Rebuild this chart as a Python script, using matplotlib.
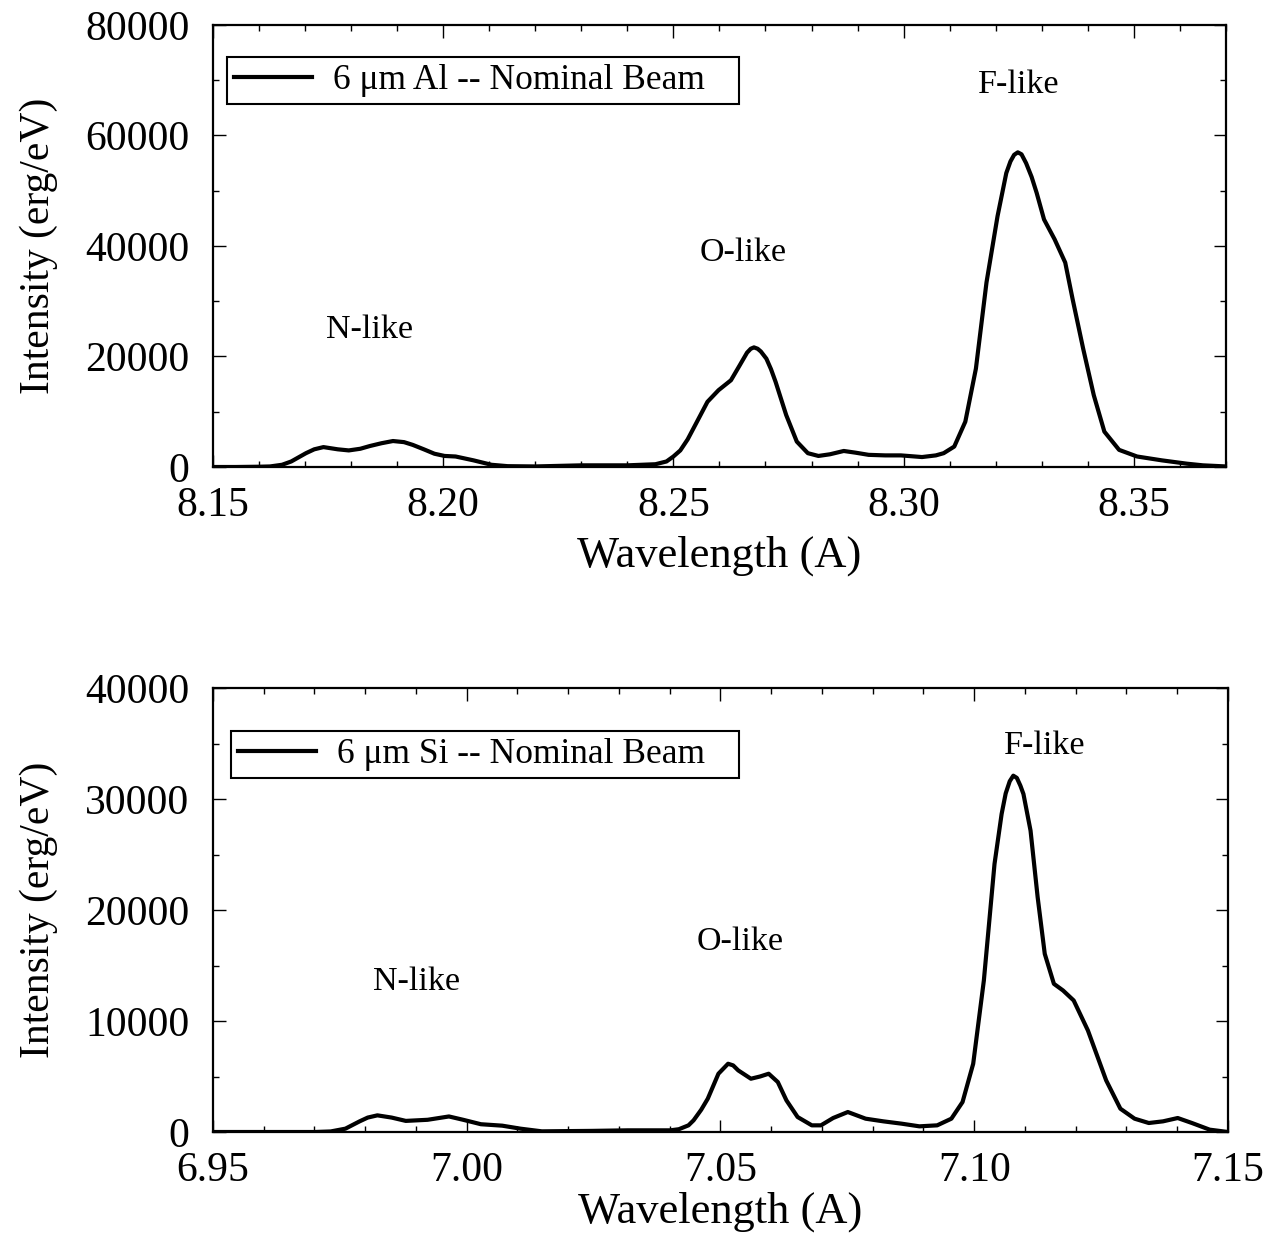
import matplotlib
matplotlib.use("Agg")
import matplotlib.pyplot as plt
from matplotlib.ticker import MultipleLocator

# Fonts
plt.rcParams['font.family'] = ['Liberation Serif', 'DejaVu Serif']

# Al spectrum (top panel)
wl_al = [8.150, 8.155, 8.160, 8.1624, 8.165, 8.167, 8.1702, 8.172, 8.174, 8.1771,
         8.1795, 8.182, 8.1841, 8.1866, 8.1891, 8.1915, 8.1934, 8.1958, 8.1981, 8.2003,
         8.2027, 8.2066, 8.2105, 8.2140, 8.2200, 8.2300, 8.2400, 8.2461, 8.2485, 8.2500,
         8.2515, 8.2531, 8.2550, 8.2574, 8.2598, 8.2625, 8.2644, 8.2660, 8.2668, 8.2675,
         8.2683, 8.2690, 8.2702, 8.2712, 8.2722, 8.2745, 8.2768, 8.2792, 8.2815, 8.2840,
         8.2870, 8.2895, 8.2924, 8.2960, 8.2994, 8.3040, 8.3070, 8.3087, 8.3110, 8.3134,
         8.3157, 8.3180, 8.3204, 8.3223, 8.3232, 8.3240, 8.3248, 8.3256, 8.3266, 8.3278,
         8.3289, 8.3305, 8.3328, 8.3351, 8.3367, 8.3390, 8.3413, 8.3436, 8.3468, 8.3507,
         8.3561, 8.3615, 8.3650, 8.3700]
int_al = [0, 0, 50, 100, 400, 1000, 2500, 3200, 3600, 3200,
          3000, 3300, 3800, 4300, 4700, 4500, 4000, 3200, 2400, 2000,
          1900, 1200, 400, 150, 100, 300, 300, 500, 1000, 1900,
          3000, 5000, 8000, 11800, 13900, 15700, 18400, 20700, 21400, 21650,
          21400, 20900, 19600, 17700, 15400, 9400, 4600, 2500, 2000, 2300,
          2900, 2600, 2200, 2100, 2100, 1800, 2100, 2500, 3700, 8200,
          17800, 33400, 45400, 53200, 55300, 56500, 56950, 56600, 55000, 52500,
          49600, 44800, 41200, 37000, 30400, 21400, 13000, 6400, 3100, 1900,
          1200, 600, 300, 100]

# Si spectrum (bottom panel)
wl_si = [6.950, 6.960, 6.970, 6.9732, 6.9761, 6.9789, 6.9805, 6.9824, 6.9852, 6.9880,
         6.9923, 6.9965, 6.9993, 7.0028, 7.0070, 7.0106, 7.0148, 7.0246, 7.0317, 7.0401,
         7.0418, 7.0437, 7.0447, 7.0462, 7.0475, 7.0496, 7.0515, 7.0525, 7.0535, 7.0560,
         7.0578, 7.0595, 7.0613, 7.0630, 7.0652, 7.0680, 7.0698, 7.0722, 7.0751, 7.0786,
         7.0821, 7.0857, 7.0892, 7.0927, 7.0955, 7.0977, 7.0998, 7.1019, 7.1040, 7.1054,
         7.1062, 7.1070, 7.1077, 7.1084, 7.1091, 7.1097, 7.1111, 7.1125, 7.1139, 7.1157,
         7.1175, 7.1196, 7.1224, 7.1260, 7.1288, 7.1316, 7.1344, 7.1372, 7.1401, 7.1429,
         7.1464, 7.1500]
int_si = [0, 0, 0, 50, 300, 960, 1300, 1500, 1300, 1000,
          1100, 1400, 1100, 700, 570, 300, 60, 100, 150, 150,
          250, 600, 1050, 2000, 3000, 5250, 6150, 6000, 5550, 4800,
          5000, 5250, 4500, 2850, 1350, 600, 600, 1260, 1800, 1200,
          960, 750, 510, 600, 1200, 2700, 6150, 13650, 24150, 28650,
          30500, 31600, 32100, 31900, 31200, 30450, 27150, 21150, 16050, 13350,
          12750, 11850, 9150, 4650, 2100, 1200, 810, 960, 1260, 810,
          210, 0]

# Peak labels
labels = ["N-like", "O-like", "F-like"]
al_label_x = [8.1841, 8.2652, 8.3250]
al_label_y = [24800, 38700, 69100]
si_label_x = [6.9902, 7.0538, 7.1139]
si_label_y = [13500, 17100, 34800]

fig = plt.figure(figsize=(12.79, 12.43), dpi=100)
ax1 = fig.add_axes([0.1665, 0.6243, 0.792, 0.3556])
ax2 = fig.add_axes([0.1665, 0.0893, 0.7936, 0.3572])


def style_axes(ax, xmin, xmax, ymax, ymajor, yminor):
    ax.set_xlim(xmin, xmax)
    ax.set_ylim(0, ymax)
    ax.xaxis.set_major_locator(MultipleLocator(0.05))
    ax.xaxis.set_minor_locator(MultipleLocator(0.01))
    ax.yaxis.set_major_locator(MultipleLocator(ymajor))
    ax.yaxis.set_minor_locator(MultipleLocator(yminor))
    ax.xaxis.set_major_formatter(plt.FormatStrFormatter('%.2f'))
    ax.tick_params(which='both', direction='in', top=True, right=True, width=1.0)
    ax.tick_params(which='major', length=9)
    ax.tick_params(which='minor', length=4.5)
    ax.tick_params(axis='x', which='major', labelsize=30, pad=14)
    ax.tick_params(axis='y', which='major', labelsize=30, pad=17)
    for s in ax.spines.values():
        s.set_linewidth(1.6)
    ax.set_xlabel("Wavelength (A)", fontsize=32)
    ax.set_ylabel("Intensity (erg/eV)", fontsize=30)


def add_legend(ax, x, y):
    leg = ax.legend(loc='upper left', bbox_to_anchor=(x, y), fontsize=25.5,
                    handlelength=2.2, handletextpad=0.6, borderpad=0.2,
                    borderaxespad=0, fancybox=False, edgecolor='black', framealpha=1)
    leg.get_frame().set_linewidth(1.5)


# Top panel
ax1.plot(wl_al, int_al, color='black', lw=3, solid_joinstyle='round',
         label="6 μm Al -- Nominal Beam   ")
style_axes(ax1, 8.15, 8.37, 80000, 20000, 10000)
ax1.xaxis.set_label_coords(0.5, -0.155)
ax1.yaxis.set_label_coords(-0.153, 0.5)
for t, x, y in zip(labels, al_label_x, al_label_y):
    ax1.text(x, y, t, fontsize=24.5, ha='center', va='center')
add_legend(ax1, 0.0138, 0.9276)

# Bottom panel
ax2.plot(wl_si, int_si, color='black', lw=3, solid_joinstyle='round',
         label="6 μm Si -- Nominal Beam   ")
style_axes(ax2, 6.95, 7.15, 40000, 10000, 5000)
ax2.xaxis.set_label_coords(0.5, -0.135)
ax2.yaxis.set_label_coords(-0.153, 0.5)
for t, x, y in zip(labels, si_label_x, si_label_y):
    ax2.text(x, y, t, fontsize=24.5, ha='center', va='center')
add_legend(ax2, 0.0177, 0.903)

plt.savefig("out.png", dpi=100)
